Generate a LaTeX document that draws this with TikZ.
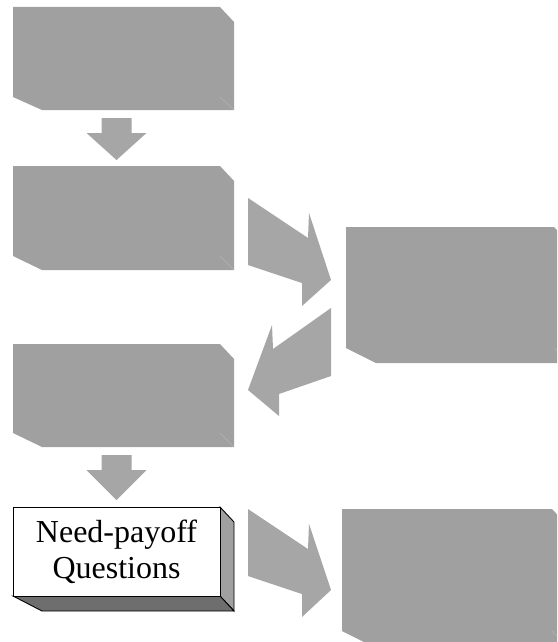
\documentclass[tikz,border=0pt]{standalone}
\usepackage{fontspec}
\setmainfont{Liberation Serif}
\usetikzlibrary{calc}
\definecolor{boxgray}{HTML}{A0A0A0}
\definecolor{arrowgray}{HTML}{A6A6A6}
\definecolor{edgegray}{HTML}{B4B4B4}
\definecolor{shadegray}{HTML}{6E6E6E}
\begin{document}
\begin{tikzpicture}[x=1pt,y=-1pt,
  front/.style={anchor=north west, inner sep=0pt, outer sep=0pt,
    minimum width=207pt, minimum height=90pt},
  graybox/.style={front, fill=boxgray},
  widebox/.style={graybox, minimum width=208pt, minimum height=121pt},
  blockarrow/.style={fill=arrowgray},
  faint/.style={draw=edgegray, line width=0.5pt},
  outline/.style={draw=black, line width=0.9pt, line join=miter}]
\useasboundingbox (0,0) rectangle (557,642);
\clip (0,0) rectangle (557,642);

% extruded gray body behind a front face
\newcommand\slabbody[3]{%
  \fill[boxgray] (#1.north west) -- (#1.north east) -- ++(14,15)
    -- ($(#1.south east)+(14,#3)$) -- ($(#1.south west)+(#2,#3)$)
    -- (#1.south west) -- cycle;
  \draw[faint] (#1.south east) -- ++(14,#3);}

% left column
\node[graybox] (b1) at (13,7) {};
\slabbody{b1}{29}{13}
\node[graybox] (b2) at (13,166) {};
\slabbody{b2}{29}{14}
\node[graybox, minimum height=89pt] (b3) at (13,344) {};
\slabbody{b3}{29}{14}

% white box with shaded sides
\node[front, minimum height=89pt] (b4) at (13,507) {};
\filldraw[outline, fill=boxgray] (b4.north east) -- ++(14,15)
  -- ($(b4.south east)+(14,15)$) -- (b4.south east) -- cycle;
\filldraw[outline, fill=shadegray] (b4.south west) -- (b4.south east)
  -- ++(14,15) -- ($(b4.south west)+(29,15)$) -- cycle;
\node[front, minimum height=89pt, outline, fill=white, align=center,
  font=\fontsize{32}{36}\selectfont] (b4) at (13,507) {Need-payoff\\Questions};

% right column
\node[widebox] (r1) at (346,227) {};
\slabbody{r1}{30}{15}
\node[widebox, minimum width=210pt, minimum height=122pt] (r2) at (342,509) {};
\slabbody{r2}{30}{15}

% downward block arrows
\fill[blockarrow] ($(b1.south)+(-15,21)$) -- ++(30,0) -- ++(0,15) -- ++(15,0)
  -- ($(b2.north)+(0,-6)$) -- ($(b1.south)+(-30,36)$) -- ++(15,0) -- cycle;
\fill[blockarrow] ($(b3.south)+(-15,22)$) -- ++(30,0) -- ++(0,15) -- ++(15,0)
  -- ($(b4.north)+(0,-7)$) -- ($(b3.south)+(-30,37)$) -- ++(15,0) -- cycle;

% slanted block arrows between the columns
\fill[blockarrow] (248,198) -- (308,238) -- (309,213) -- (331,280)
  -- (302,306) -- (302,283) -- (248,265) -- cycle;
\fill[blockarrow] (331,308) -- (273,349) -- (272,325) -- (248,390)
  -- (279,416) -- (279,394) -- (331,376) -- cycle;
\fill[blockarrow] (248,509) -- (308,549) -- (309,524) -- (331,590)
  -- (302,617) -- (302,594) -- (248,576) -- cycle;
\end{tikzpicture}
\end{document}
